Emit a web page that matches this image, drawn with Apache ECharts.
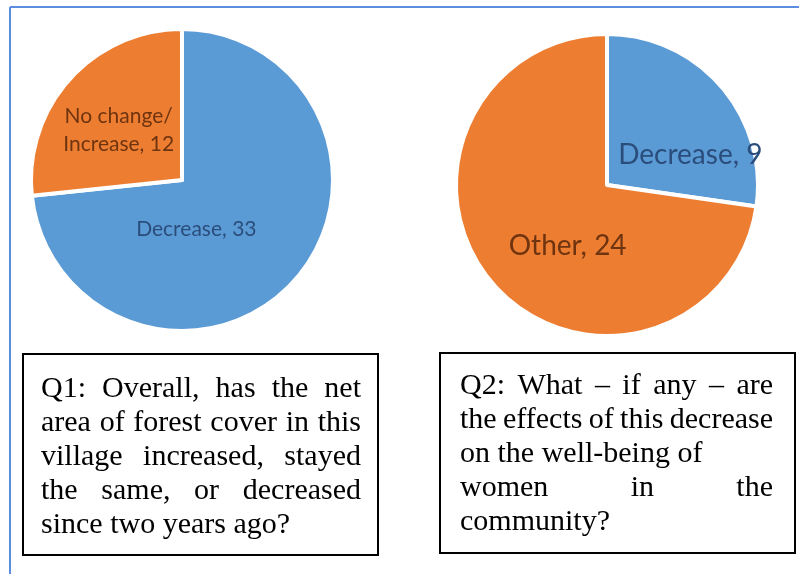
<!DOCTYPE html>
<html>
<head>
<meta charset="utf-8">
<script src="https://cdn.jsdelivr.net/npm/echarts@6/dist/echarts.min.js"></script>
<style>
  html, body { margin: 0; padding: 0; background: #fff; }
  #chart { width: 799px; height: 574px; }
</style>
</head>
<body>
<div id="chart"></div>
<script>
// Q1: change in forest cover
const q1Categories = ['Decrease', 'No change/Increase'];
const q1Values = [33, 12];
// Q2: effects on the well-being of women
const q2Categories = ['Decrease', 'Other'];
const q2Values = [9, 24];

// Question text, one entry per printed line
const q1Lines = [
  'Q1: Overall, has the net',
  'area of forest cover in this',
  'village increased, stayed',
  'the same, or decreased',
  'since two years ago?'
];
const q1Justify = [true, true, true, true, false];
const q2Lines = [
  'Q2: What \u2013 if any \u2013 are',
  'the effects of this decrease',
  'on the well-being of',
  'women in the',
  'community?'
];
const q2Justify = [true, true, false, true, false];

const BLUE = '#5b9bd5';
const ORANGE = '#ed7d31';
const BLUE_TEXT = '#2b4d7c';
const ORANGE_TEXT = '#6e3410';

const chart = echarts.init(document.getElementById('chart'), null, { renderer: 'canvas' });

function pieData(cats, vals, colors, textColors) {
  return cats.map((c, i) => ({
    name: c,
    value: vals[i],
    itemStyle: { color: colors[i] },
    label: { color: textColors[i] }
  }));
}

// Nudge labels from the slice midpoint to where they sit in the layout
const labelShift = [
  [[-44, -3], [-5, 3]],
  [[24, 21], [20, 10]]
];

// Justified question text drawn as individual words
const SERIF = '"Liberation Serif", "Times New Roman", serif';
const FONT_SIZE = 30;
const measureCtx = document.createElement('canvas').getContext('2d');
measureCtx.font = FONT_SIZE + 'px ' + SERIF;

function textBlock(lines, justify, left, right, top, step) {
  const els = [];
  const spaceW = measureCtx.measureText(' ').width;
  lines.forEach((line, li) => {
    const words = line.split(' ');
    const widths = words.map(w => measureCtx.measureText(w).width);
    const total = widths.reduce((a, b) => a + b, 0);
    let gap = spaceW;
    if (justify[li] && words.length > 1) {
      gap = Math.max(2, (right - left - total) / (words.length - 1));
    }
    let x = left;
    words.forEach((w, wi) => {
      els.push({
        type: 'text',
        x: x,
        y: top + li * step,
        silent: true,
        style: {
          text: w,
          font: FONT_SIZE + 'px ' + SERIF,
          fill: '#000',
          textAlign: 'left',
          textVerticalAlign: 'middle'
        }
      });
      x += widths[wi] + gap;
    });
  });
  return els;
}

const graphics = [
  { type: 'line', shape: { x1: 10, y1: 7, x2: 799, y2: 7 }, style: { stroke: '#5b8de0', lineWidth: 2 }, silent: true },
  { type: 'line', shape: { x1: 10, y1: 7, x2: 10, y2: 574 }, style: { stroke: '#5b8de0', lineWidth: 2 }, silent: true },
  { type: 'rect', shape: { x: 23, y: 354, width: 355, height: 201 }, style: { fill: '#fff', stroke: '#000', lineWidth: 2 }, silent: true },
  { type: 'rect', shape: { x: 440, y: 353, width: 355, height: 200 }, style: { fill: '#fff', stroke: '#000', lineWidth: 2 }, silent: true }
].concat(
  textBlock(q1Lines, q1Justify, 41, 361, 389, 34),
  textBlock(q2Lines, q2Justify, 460, 773, 386, 34)
);

const option = {
  animation: false,
  graphic: graphics,
  series: [
    {
      type: 'pie',
      center: [182, 180],
      radius: 151,
      startAngle: 90,
      clockwise: true,
      silent: true,
      itemStyle: { borderColor: '#fff', borderWidth: 4 },
      label: {
        show: true,
        position: 'inside',
        fontFamily: 'Lato, "Open Sans", sans-serif',
        fontSize: 21,
        lineHeight: 28,
        formatter: p => p.name.replace('/', '/\n') + ', ' + p.value
      },
      labelLine: { show: false },
      labelLayout: p => ({ dx: labelShift[0][p.dataIndex][0], dy: labelShift[0][p.dataIndex][1] }),
      data: pieData(q1Categories, q1Values, [BLUE, ORANGE], [BLUE_TEXT, ORANGE_TEXT])
    },
    {
      type: 'pie',
      center: [607, 185],
      radius: 151,
      startAngle: 90,
      clockwise: true,
      silent: true,
      itemStyle: { borderColor: '#fff', borderWidth: 4 },
      label: {
        show: true,
        position: 'inside',
        fontFamily: 'Lato, "Open Sans", sans-serif',
        fontSize: 28,
        formatter: p => p.name + ', ' + p.value
      },
      labelLine: { show: false },
      labelLayout: p => ({ dx: labelShift[1][p.dataIndex][0], dy: labelShift[1][p.dataIndex][1] }),
      data: pieData(q2Categories, q2Values, [BLUE, ORANGE], [BLUE_TEXT, ORANGE_TEXT])
    }
  ]
};

chart.setOption(option);
</script>
</body>
</html>
